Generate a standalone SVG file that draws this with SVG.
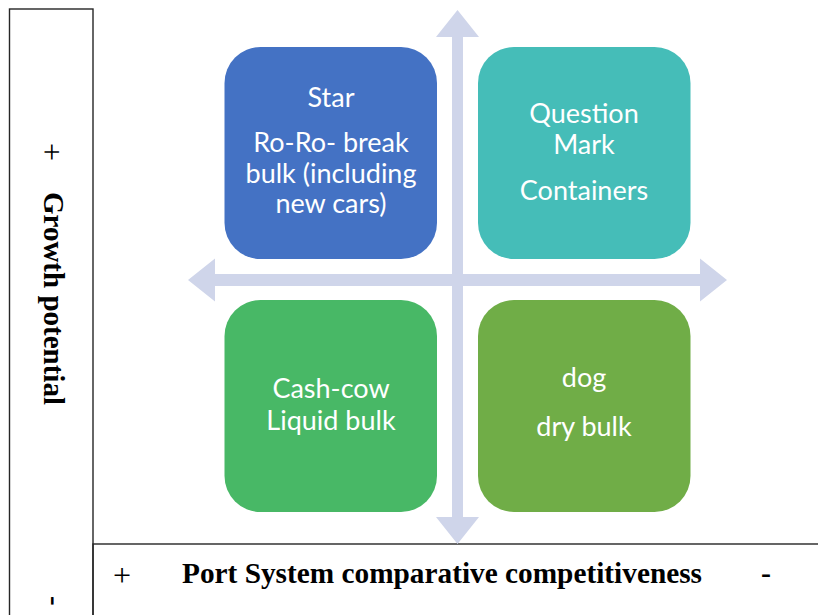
<svg xmlns="http://www.w3.org/2000/svg" width="818" height="615" viewBox="0 0 818 615">
<style>
.frame{fill:none;stroke:#262626;stroke-width:1.4}
.axis{fill:#CFD5EA}
.q{font-family:Lato,"Open Sans","Liberation Sans",sans-serif;font-size:27px;fill:#FFFFFF;text-anchor:middle}
.tb{font-family:"Liberation Serif","Times New Roman",serif;font-weight:bold;fill:#000}
.tr{font-family:"Liberation Serif","Times New Roman",serif;fill:#000}
</style>
<rect width="818" height="615" fill="#FFFFFF"/>
<g id="frames">
<rect class="frame" x="9.5" y="9" width="83.5" height="620"/>
<rect class="frame" x="93" y="544" width="740" height="80"/>
</g>
<g id="connectors">
<polygon class="axis" points="457.5,10 479,37 463,37 463,517 479,517 457.5,544 436,517 452,517 452,37 436,37"/>
<polygon class="axis" points="188,280 215,258.5 215,274 700,274 700,258.5 727,280 700,301.5 700,286 215,286 215,301.5"/>
</g>
<g id="star">
<rect x="224.5" y="47" width="212.5" height="212" rx="36" fill="#4472C4"/>
<text class="q" x="331" y="107">Star</text>
<text class="q" x="331" y="152">Ro-Ro- break</text>
<text class="q" x="331" y="183">bulk (including</text>
<text class="q" x="331" y="213">new cars)</text>
</g>
<g id="question-mark">
<rect x="478" y="47" width="212.5" height="212" rx="36" fill="#45BDB8"/>
<text class="q" x="584" y="123">Question</text>
<text class="q" x="584" y="154">Mark</text>
<text class="q" x="584" y="200">Containers</text>
</g>
<g id="cash-cow">
<rect x="224.5" y="300" width="212.5" height="212" rx="36" fill="#48B866"/>
<text class="q" x="331" y="398">Cash-cow</text>
<text class="q" x="331" y="430">Liquid bulk</text>
</g>
<g id="dog">
<rect x="478" y="300" width="212.5" height="212" rx="36" fill="#70AD47"/>
<text class="q" x="584" y="387">dog</text>
<text class="q" x="584" y="436">dry bulk</text>
</g>
<g id="y-axis-label">
<text class="tr" font-size="32" text-anchor="middle" transform="translate(41,152) rotate(90)">+</text>
<text class="tb" font-size="29" transform="translate(44,192) rotate(90)">Growth potential</text>
<text class="tb" font-size="29" transform="translate(45,596) rotate(90)">-</text>
</g>
<g id="x-axis-label">
<text class="tr" font-size="32" x="122" y="586" text-anchor="middle">+</text>
<text class="tb" font-size="30" x="182" y="583" textLength="520" lengthAdjust="spacingAndGlyphs">Port System comparative competitiveness</text>
<text class="tb" font-size="30" x="766" y="583" text-anchor="middle">-</text>
</g>
</svg>
